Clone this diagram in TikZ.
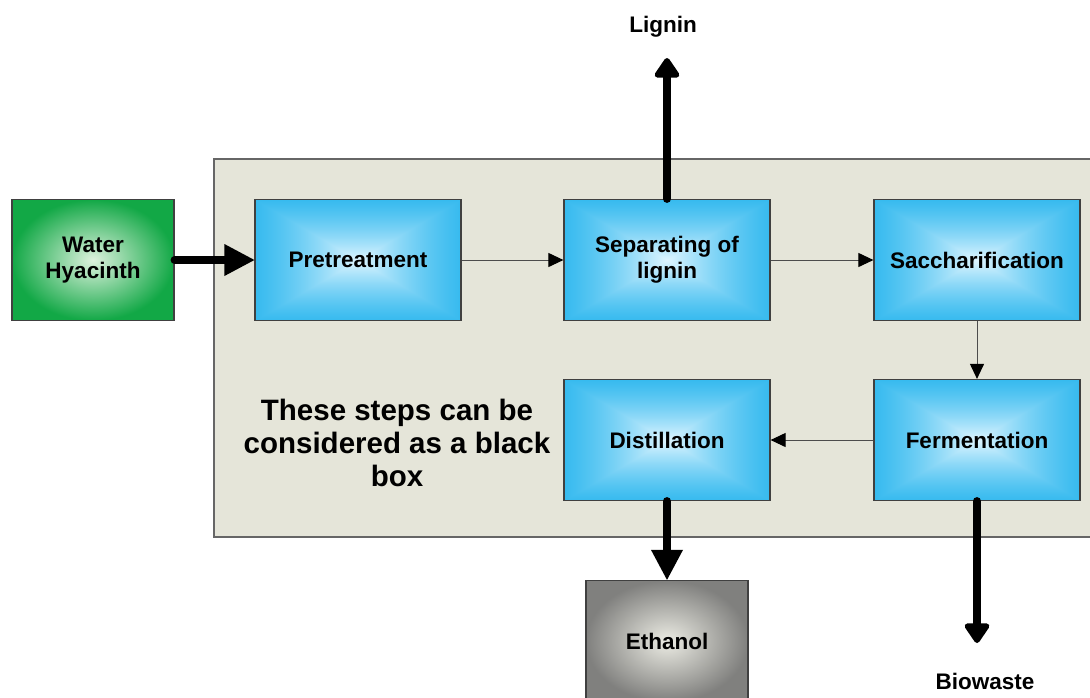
\documentclass[tikz,border=0pt]{standalone}
\usepackage{fontspec}
\setmainfont{Liberation Sans}
\usetikzlibrary{arrows.meta}

% rectangular glow: pale centre fading quickly to cyan towards the edges
\pgfdeclarefunctionalshading{stepglow}{\pgfpoint{-50bp}{-50bp}}{\pgfpoint{50bp}{50bp}}{}{
  abs exch abs 2 copy lt {exch} if pop
  46 div dup 1 gt {pop 1} if
  1 exch sub dup mul
  dup 0.83 mul 0.04 add exch dup 0.29 mul 0.67 add exch 0.08 mul 0.92 add
}

\definecolor{panelfill}{RGB}{229,229,217}
\definecolor{feedgreen}{RGB}{18,168,70}
\definecolor{feedpale}{RGB}{222,242,222}
\definecolor{prodgrey}{RGB}{128,128,126}
\definecolor{prodpale}{RGB}{236,236,228}

\tikzset{
  x=1pt, y=-1pt,
  boxbase/.style={draw=black!75, line width=1.2pt, minimum width=206pt,
    minimum height=121pt, inner sep=0pt, align=center,
    font=\bfseries\fontsize{22.5}{26}\selectfont},
  stepbox/.style={boxbase, shading=stepglow},
  feedbox/.style={boxbase, minimum width=162pt, inner color=feedpale, outer color=feedgreen},
  prodbox/.style={boxbase, minimum width=162pt, inner color=prodpale, outer color=prodgrey},
  flow/.style={draw=black!70, line width=1pt, -{Triangle[length=15pt,width=14pt,color=black]}},
  heavy/.style={line width=8pt, line cap=round, -{Triangle[length=30pt,width=32pt,line width=0pt]}},
  outlet/.style={line width=8pt, line cap=round, -{Triangle[length=22pt,width=28pt,round]}},
  caption/.style={font=\bfseries\fontsize{22.5}{26}\selectfont},
}

\begin{document}
\begin{tikzpicture}
  \path[use as bounding box, clip] (0,0) rectangle (1090,697);

  % process panel
  \draw[draw=black!60, line width=1.2pt, fill=panelfill] (214,159) rectangle (1110,537);

  % nodes
  \node[feedbox] (water) at (93,260) {Water\\Hyacinth};
  \node[stepbox] (pre) at (358,260) {Pretreatment};
  \node[stepbox] (sep) at (667,260) {Separating of\\lignin};
  \node[stepbox] (sac) at (977,260) {Saccharification};
  \node[stepbox] (dist) at (667,440) {Distillation};
  \node[stepbox] (ferm) at (977,440) {Fermentation};
  \node[prodbox] (eth) at (667,641) {Ethanol};

  \node[align=center, font=\bfseries\fontsize{29.5}{33}\selectfont] (note) at (397,443)
    {These steps can be\\considered as a black\\box};

  \node[caption] (lignin) at (663,27) {Lignin};
  \node[caption] (bio) at (985,681) {Biowaste};
  \coordinate (ligtip) at (667,58);
  \coordinate (biotip) at (977,643);

  % connectors
  \draw[heavy] (water.east) -- (pre.west);
  \draw[flow] (pre.east) -- (sep.west);
  \draw[flow] (sep.east) -- (sac.west);
  \draw[flow] (sac.south) -- (ferm.north);
  \draw[flow] (ferm.west) -- (dist.east);
  \draw[heavy] (dist.south) -- (eth.north);
  \draw[outlet] (sep.north) -- (ligtip);
  \draw[outlet] (ferm.south) -- (biotip);
\end{tikzpicture}
\end{document}
